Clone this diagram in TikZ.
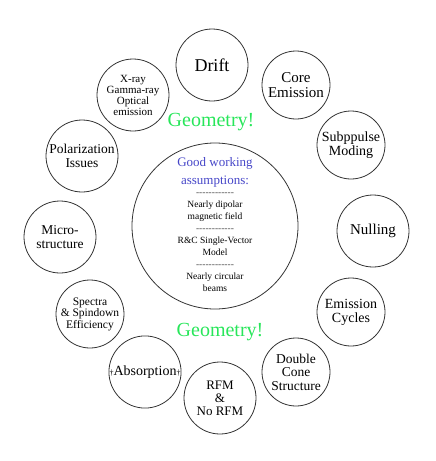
\documentclass[tikz,border=0pt]{standalone}
\usepackage{fontspec}
\setmainfont{Liberation Serif}
\usepackage{xcolor}
\usetikzlibrary{positioning}
\definecolor{geogreen}{RGB}{40,230,90}
\definecolor{goodblue}{RGB}{70,70,200}
\newcommand{\fs}[1]{\fontsize{#1}{#1}\selectfont}
\newcommand{\sep}{\textcolor{black!70}{-\kern0pt-\kern0pt-\kern0pt-\kern0pt-\kern0pt-\kern0pt-\kern0pt-\kern0pt-\kern0pt-\kern0pt-\kern0pt-}}

\begin{document}
\begin{tikzpicture}[x=1pt, y=-1pt,
  topic/.style={draw=black!80, circle, line width=0.8pt, inner sep=0pt, align=center, minimum size=68pt},
  big/.style={topic, minimum size=72pt},
  geo/.style={text=geogreen, font=\fs{20}}]
\useasboundingbox (0,0) rectangle (436,461);
% central assumptions
\node[topic, minimum size=166pt] (core) at (215,226) {};
\node[align=center, font=\fontsize{13}{18}\selectfont, text=goodblue] (good) at (215,172) {Good working\\assumptions:};
\node[align=center, font=\fontsize{9.5}{12}\selectfont, below=-1pt of good] (dip) {\sep\\Nearly dipolar\\magnetic field\\\sep\\R\&C Single-Vector\\Model\\\sep\\Nearly circular\\beams};
\node[geo] (geotop) at (211,122) {Geometry!};
\node[geo] (geobot) at (220,332) {Geometry!};
% topics round the ring
\node[big, font=\fs{18}] (drift) at (212,65) {Drift};
\node[topic, font=\fs{15}] (coreem) at (296,85) {Core\\Emission};
\node[topic, font=\fs{14}] (subp) at (351,145) {Subppulse\\Moding};
\node[big, font=\fs{15}] (null) at (373,231) {Nulling};
\node[topic, font=\fs{14}] (cyc) at (351,312) {Emission\\Cycles};
\node[topic, font=\fs{13.5}] (dcone) at (296,372) {Double\\Cone\\Structure};
\node[big, font=\fs{13}] (rfm) at (220,398) {RFM\\\&\\No RFM};
\node[topic, font=\fs{14}] (absorp) at (145,372) {{\fs{8}\textdagger}Absorption{\fs{8}\textdagger}};
\node[topic, font=\fs{11.5}] (spec) at (90,314) {Spectra\\\& Spindown\\Efficiency};
\node[big, font=\fs{13.5}] (micro) at (60,237) {Micro-\\structure};
\node[big, font=\fs{13.5}] (polar) at (82,156) {Polarization\\Issues};
\node[big, font=\fs{11}] (xray) at (133,95) {X-ray\\Gamma-ray\\Optical\\emission};
\end{tikzpicture}
\end{document}
